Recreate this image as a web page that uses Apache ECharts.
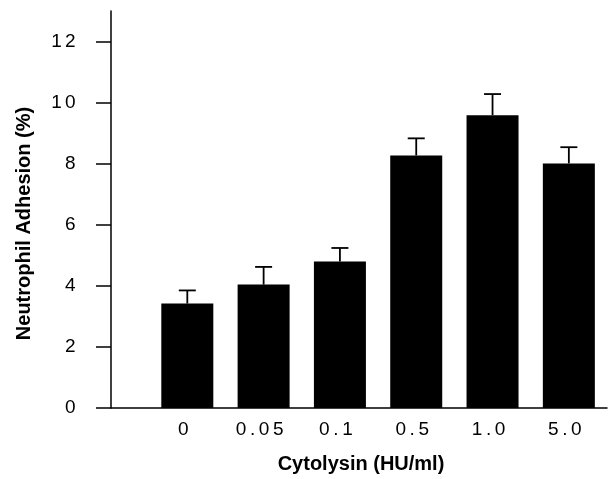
<!DOCTYPE html>
<html><head><meta charset="utf-8">
<script src="https://cdn.jsdelivr.net/npm/echarts@6/dist/echarts.min.js"></script>
<style>html,body{margin:0;padding:0;background:#fff}#c{width:610px;height:479px}</style>
</head><body><div id="c"></div>
<script>
const categories = ['0', '0.05', '0.1', '0.5', '1.0', '5.0'];
const means = [3.42, 4.04, 4.80, 8.27, 9.59, 8.01];
const errUpper = [3.85, 4.62, 5.24, 8.83, 10.28, 8.54];
const yTicks = [0, 2, 4, 6, 8, 10, 12];

const font = '"Liberation Sans", Arial, sans-serif';
// spaced characters via rich text (text content unchanged)
const spaced = s => s.split('').map(ch => '{c|' + ch + '}').join('');

const chart = echarts.init(document.getElementById('c'));
chart.setOption({
  animation: false,
  grid: { left: 111, right: 0, top: 11, bottom: 68 },
  xAxis: {
    type: 'value', min: -1, max: 5.5, interval: 1,
    axisLine: { show: true, onZero: false, lineStyle: { color: '#000', width: 1.5 } },
    axisTick: { show: false },
    splitLine: { show: false },
    axisLabel: {
      margin: 12, color: '#000', fontSize: 19, fontFamily: font, padding: [0, 8, 0, 0],
      formatter: v => (v >= 0 && v < categories.length && Number.isInteger(v)) ? spaced(categories[v]) : '',
      rich: { c: { fontSize: 19, fontFamily: font, color: '#000', padding: [0, 1.8, 0, 1.8] } }
    },
    name: 'Cytolysin (HU/ml)', nameLocation: 'middle', nameGap: 46,
    nameTextStyle: { color: '#000', fontSize: 20, fontWeight: 'bold', fontFamily: font, padding: [0, 0, 0, 4] }
  },
  yAxis: {
    type: 'value', min: 0, max: 13,
    axisLine: { show: true, onZero: false, lineStyle: { color: '#000', width: 1.5 } },
    axisTick: { show: true, length: 15, customValues: yTicks, lineStyle: { color: '#000', width: 1.5 } },
    splitLine: { show: false },
    axisLabel: {
      margin: 34, color: '#000', fontSize: 19, fontFamily: font, customValues: yTicks,
      formatter: v => spaced(String(v)),
      rich: { c: { fontSize: 19, fontFamily: font, color: '#000', padding: [0, 1.5, 0, 1.5] } }
    },
    name: 'Neutrophil Adhesion (%)', nameLocation: 'middle', nameGap: 77, nameRotate: 90,
    nameTextStyle: { color: '#000', fontSize: 20, fontWeight: 'bold', fontFamily: font, padding: [0, 28, 0, 0] }
  },
  series: [
    {
      type: 'bar', barWidth: 52,
      itemStyle: { color: '#000' },
      data: means.map((m, i) => [i, m])
    },
    {
      type: 'custom',
      data: errUpper.map((e, i) => [i, means[i], e]),
      renderItem: (params, api) => {
        const x = api.value(0);
        const p0 = api.coord([x, api.value(1)]);
        const p1 = api.coord([x, api.value(2)]);
        const hw = 8.5;
        const st = { stroke: '#000', lineWidth: 1.8 };
        return { type: 'group', children: [
          { type: 'line', shape: { x1: p0[0], y1: p0[1], x2: p1[0], y2: p1[1] }, style: st },
          { type: 'line', shape: { x1: p1[0] - hw, y1: p1[1], x2: p1[0] + hw, y2: p1[1] }, style: st }
        ]};
      },
      z: 3
    }
  ]
});
</script></body></html>
